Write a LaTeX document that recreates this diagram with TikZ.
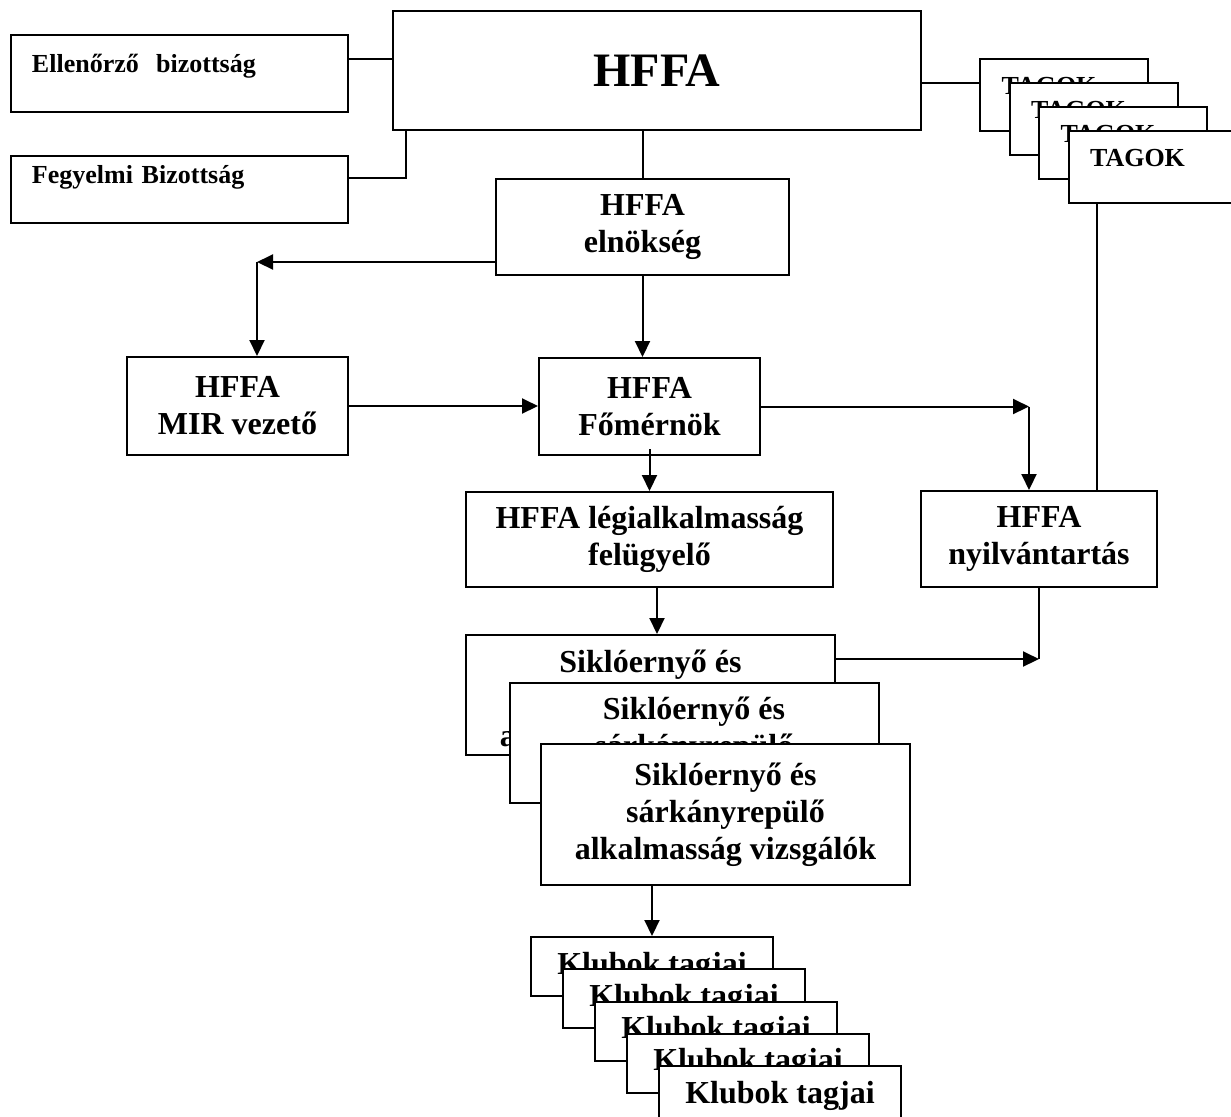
\documentclass[tikz,border=0pt]{standalone}
\usepackage{fontspec}
\setmainfont{Liberation Serif}
\usepackage{tikz}
\usetikzlibrary{arrows.meta}
\tikzset{
  boxnode/.style = {align=center, inner sep=0pt, text centered,
    font=\bfseries\fontsize{16}{18.5}\selectfont},
  bx/.style = {boxnode, rectangle, draw=black, fill=white, line width=1pt},% plain box
  sm/.style = {bx, align=left, text width=147.5pt, inner xsep=10.5pt,
    font=\bfseries\fontsize{13}{15.5}\selectfont},% committee box
  tg/.style = {bx, minimum width=84pt, minimum height=36pt, text depth=9pt,
    font=\bfseries\fontsize{13}{15.5}\selectfont},% TAGOK box
  sk/.style = {bx, minimum width=184.5pt, minimum height=60pt},% examiner box
  kl/.style = {bx, minimum width=121pt, minimum height=29.5pt},% club box
  ln/.style = {line width=1pt}
}
\begin{document}
\begin{tikzpicture}[x=0.5pt,y=-0.5pt,>={Triangle[length=8pt,width=7.5pt]}]
\useasboundingbox (0,0) rectangle (1231,1116);

\node [sm, text height=18.5pt, text depth=20pt] (ell) at (179.5,73.5) {Ellenőrző\ \ bizottság};
\node [sm, text height=13.5pt, text depth=20pt] (feg) at (179.5,189.5) {Fegyelmi Bizottság};
\node [bx, minimum width=264pt, minimum height=59.5pt,
  font=\bfseries\fontsize{24}{28}\selectfont] (hffa) at (657,70.5) {HFFA};

\node [tg] (tag1) at (1064,95) {TAGOK\hspace*{15pt}};
\node [tg] (tag2) at (1093.5,119) {TAGOK\hspace*{15pt}};
\node [tg] (tag3) at (1123,143) {TAGOK\hspace*{15pt}};
\node [tg] (tag4) at (1152.5,167) {TAGOK\hspace*{15pt}};

\node [bx, minimum width=146.5pt, minimum height=48pt] (eln) at (642.5,227) {HFFA\\elnökség};
\node [bx, minimum width=110.5pt, minimum height=49pt] (mir) at (237.5,406) {HFFA\\MIR vezető};
\node [bx, minimum width=110.5pt, minimum height=48.5pt] (fom) at (649.5,406.5) {HFFA\\Főmérnök};
\node [bx, minimum width=183.5pt, minimum height=47.5pt] (leg) at (649.5,539.5) {HFFA légialkalmasság\\felügyelő};
\node [bx, minimum width=118pt, minimum height=48pt] (nyi) at (1039,539) {HFFA\\nyilvántartás};

\node [sk] (sik1) at (650.5,695) {\rule{0pt}{18.5pt}Siklóernyő és\\sárkányrepülő\\alkalmasság vizsgálók};
\node [sk] (sik2) at (694,743) {\rule{0pt}{17pt}Siklóernyő és\\sárkányrepülő\\alkalmasság vizsgálók};
\node [sk, minimum height=70.5pt] (sik3) at (725.5,814.5) {Siklóernyő és\\sárkányrepülő\\alkalmasság vizsgálók};

\node [kl] (klub1) at (652,966.5) {Klubok tagjai};
\node [kl] (klub2) at (684,998.75) {Klubok tagjai};
\node [kl] (klub3) at (716,1031) {Klubok tagjai};
\node [kl] (klub4) at (748,1063.25) {Klubok tagjai};
\node [kl] (klub5) at (780,1095.5) {Klubok tagjai};

\draw [ln] (ell.5) -- (ell.5 -| hffa.west);
\draw [ln] (feg.4) -| ([xshift=7pt]hffa.south west);
\draw [ln] ([yshift=6pt]tag1.west) -- ([yshift=6pt]tag1.west -| hffa.east);
\draw [ln] (eln.north) -- (eln.north |- hffa.south);
\draw [ln] ([xshift=29pt]nyi.north) -- ([xshift=29pt]nyi.north |- tag4.south);

\coordinate (e1) at ([yshift=-17.5pt]eln.west);
\coordinate (m1) at ([xshift=9.75pt]mir.north);
\draw [ln, ->] (e1) -- (e1 -| m1) coordinate (c1);
\draw [ln, ->] (c1) -- (m1);
\draw [ln, ->] (eln.south) -- (eln.south |- fom.north);
\draw [ln, ->] (mir.east) -- (mir.east -| fom.west);

\coordinate (n1) at ([xshift=-5pt]nyi.north);
\draw [ln, ->] (fom.east) -- (fom.east -| n1) coordinate (c2);
\draw [ln, ->] (c2) -- (n1);
\draw [ln, ->] ([yshift=3.5pt]fom.south) -- (leg.north);

\coordinate (l1) at ([xshift=3.75pt]leg.south);
\draw [ln, ->] (l1) -- (l1 |- sik1.north);
\coordinate (s1) at ([yshift=18pt]sik1.east);
\draw [ln, ->] (s1) -- (s1 -| nyi.south) coordinate (c3);
\draw [ln] (nyi.south) -- (c3);
\draw [ln, ->] (klub1.north |- sik3.south) -- (klub1.north);
\end{tikzpicture}
\end{document}
